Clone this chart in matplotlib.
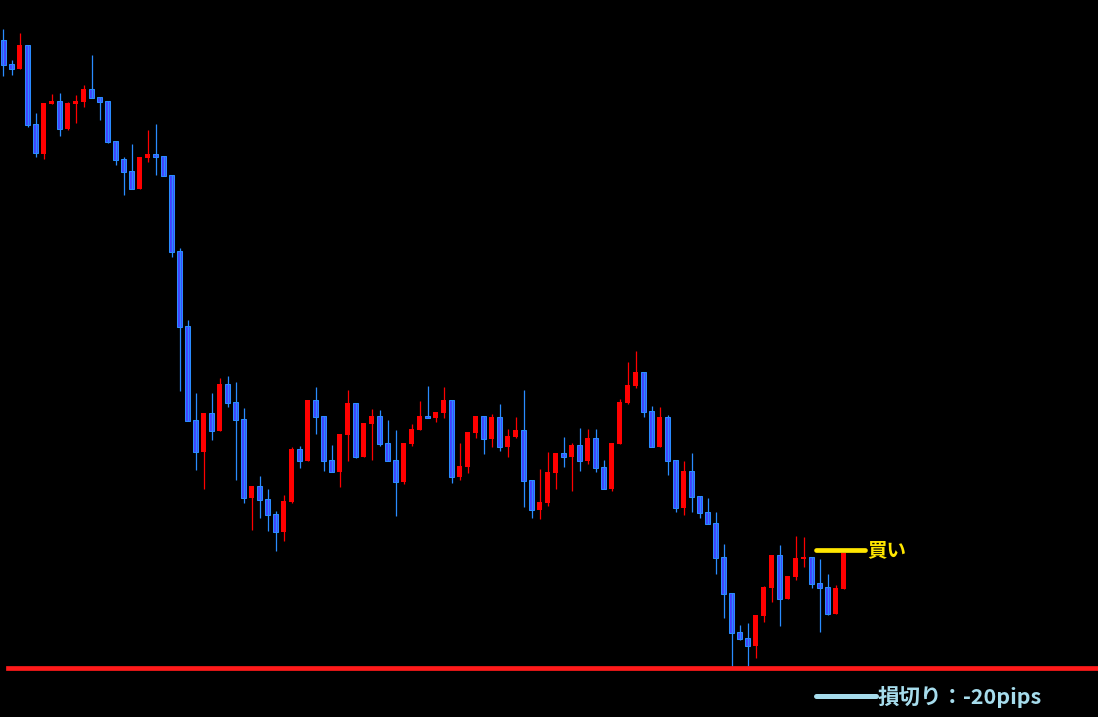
import numpy as np
import matplotlib
matplotlib.use('Agg')
from matplotlib import pyplot as plt

# candle data (price units, one candle per bar)
opens = [677, 653, 648, 672, 593, 563, 613, 616, 588, 613, 615, 628, 620, 616, 576, 558, 546, 528, 559, 563,
         561, 542, 466, 391, 297, 265, 304, 286, 333, 315, 298, 219, 231, 218, 203, 185, 215, 268, 256, 317,
         301, 257, 245, 282, 314, 260, 293, 301, 274, 257, 235, 273, 287, 301, 299, 304, 317, 240, 250, 284,
         301, 278, 300, 270, 280, 287, 237, 207, 214, 244, 264, 260, 272, 256, 279, 250, 228, 273, 314, 331,
         345, 306, 270, 300, 257, 209, 246, 221, 205, 194, 160, 124, 85, 79, 71, 101, 129, 162, 118, 140,
         158, 160, 134, 130, 103, 128]
highs = [688, 657, 684, 672, 604, 614, 623, 624, 615, 622, 632, 662, 620, 616, 576, 560, 573, 560, 587, 593,
         561, 542, 469, 397, 324, 304, 324, 339, 341, 335, 309, 231, 241, 228, 206, 222, 270, 271, 317, 330,
         301, 272, 283, 327, 314, 294, 308, 307, 297, 287, 274, 293, 316, 331, 305, 330, 317, 274, 285, 301,
         301, 303, 313, 288, 300, 327, 237, 248, 265, 264, 280, 274, 289, 288, 288, 257, 274, 318, 355, 366,
         345, 311, 310, 302, 257, 256, 264, 221, 219, 205, 173, 124, 92, 94, 102, 131, 162, 172, 141, 181,
         180, 160, 158, 143, 132, 164]
lows = [641, 642, 648, 590, 560, 558, 613, 581, 587, 594, 610, 619, 597, 574, 552, 522, 528, 528, 555, 542,
        541, 460, 326, 296, 247, 228, 277, 286, 310, 237, 214, 187, 199, 186, 166, 176, 214, 249, 256, 283,
        246, 245, 230, 256, 259, 260, 257, 271, 256, 201, 233, 271, 287, 299, 295, 299, 234, 237, 244, 279,
        263, 270, 266, 260, 279, 210, 199, 198, 211, 228, 250, 226, 246, 253, 245, 228, 226, 273, 313, 329,
        300, 270, 270, 242, 205, 202, 205, 199, 193, 143, 99, 51, 77, 51, 59, 95, 115, 91, 118, 137,
        150, 129, 85, 102, 103, 128]
closes = [652, 648, 672, 592, 564, 614, 616, 588, 614, 616, 628, 619, 615, 575, 557, 545, 528, 560, 563, 560,
          541, 465, 390, 296, 265, 304, 286, 333, 314, 297, 219, 231, 217, 202, 185, 216, 268, 256, 317, 300,
          256, 245, 283, 314, 260, 294, 301, 273, 256, 235, 274, 288, 301, 299, 305, 317, 240, 251, 285, 301,
          278, 300, 270, 281, 287, 236, 207, 215, 245, 264, 260, 272, 256, 279, 249, 228, 274, 315, 332, 345,
          305, 270, 300, 256, 209, 246, 220, 204, 193, 159, 123, 84, 78, 71, 102, 130, 162, 118, 141, 159,
          160, 133, 129, 103, 129, 164]

buy_price = 166.7
stop_price = 49.5
buy_label = '買い'
stop_label = '損切り：-20pips'

plt.rcParams['font.family'] = ['Noto Sans CJK JP', 'DejaVu Sans']

fig = plt.figure(figsize=(10.98, 7.17), dpi=100, facecolor='black')
ax = fig.add_axes([0, 0, 1, 1])
ax.set_facecolor('black')

x = np.arange(len(opens))
o = np.array(opens, dtype=float)
c = np.array(closes, dtype=float)
up = c >= o

# wicks
ax.vlines(x[up], np.array(lows)[up], np.array(highs)[up], color='#ff0000', linewidth=0.9)
ax.vlines(x[~up], np.array(lows)[~up], np.array(highs)[~up], color='#2a8cff', linewidth=0.9)

# bodies
body = np.maximum(np.abs(c - o), 1.5)
ax.bar(x[up], body[up], bottom=np.minimum(o, c)[up], width=0.62, color='#ff0000', linewidth=0)
ax.bar(x[~up], body[~up], bottom=np.minimum(o, c)[~up], width=0.53, color='#4242ff',
       edgecolor='#2a8cff', linewidth=0.75)

# stop loss line and buy line
ax.axhline(stop_price, xmin=8 / 1098, xmax=1, color='#ff1a1a', linewidth=3.4)
ax.plot([101.5, 107.7], [buy_price, buy_price], color='#ffe600', linewidth=3.4, solid_capstyle='round')
ax.text(108.0, buy_price, buy_label, color='#ffe600', fontsize=14, fontweight='bold', va='center', ha='left')

# legend style note at the bottom
ax.plot([101.5, 109.0], [20.7, 20.7], color='#a6dcec', linewidth=3.6, solid_capstyle='round')
ax.text(109.3, 20.2, stop_label, color='#a6dcec', fontsize=15.5, fontweight='bold', va='center', ha='left')

ax.set_xlim(-0.4375, 136.8125)
ax.set_ylim(0, 717)
ax.axis('off')

plt.savefig('out.png', dpi=100, facecolor='black')
